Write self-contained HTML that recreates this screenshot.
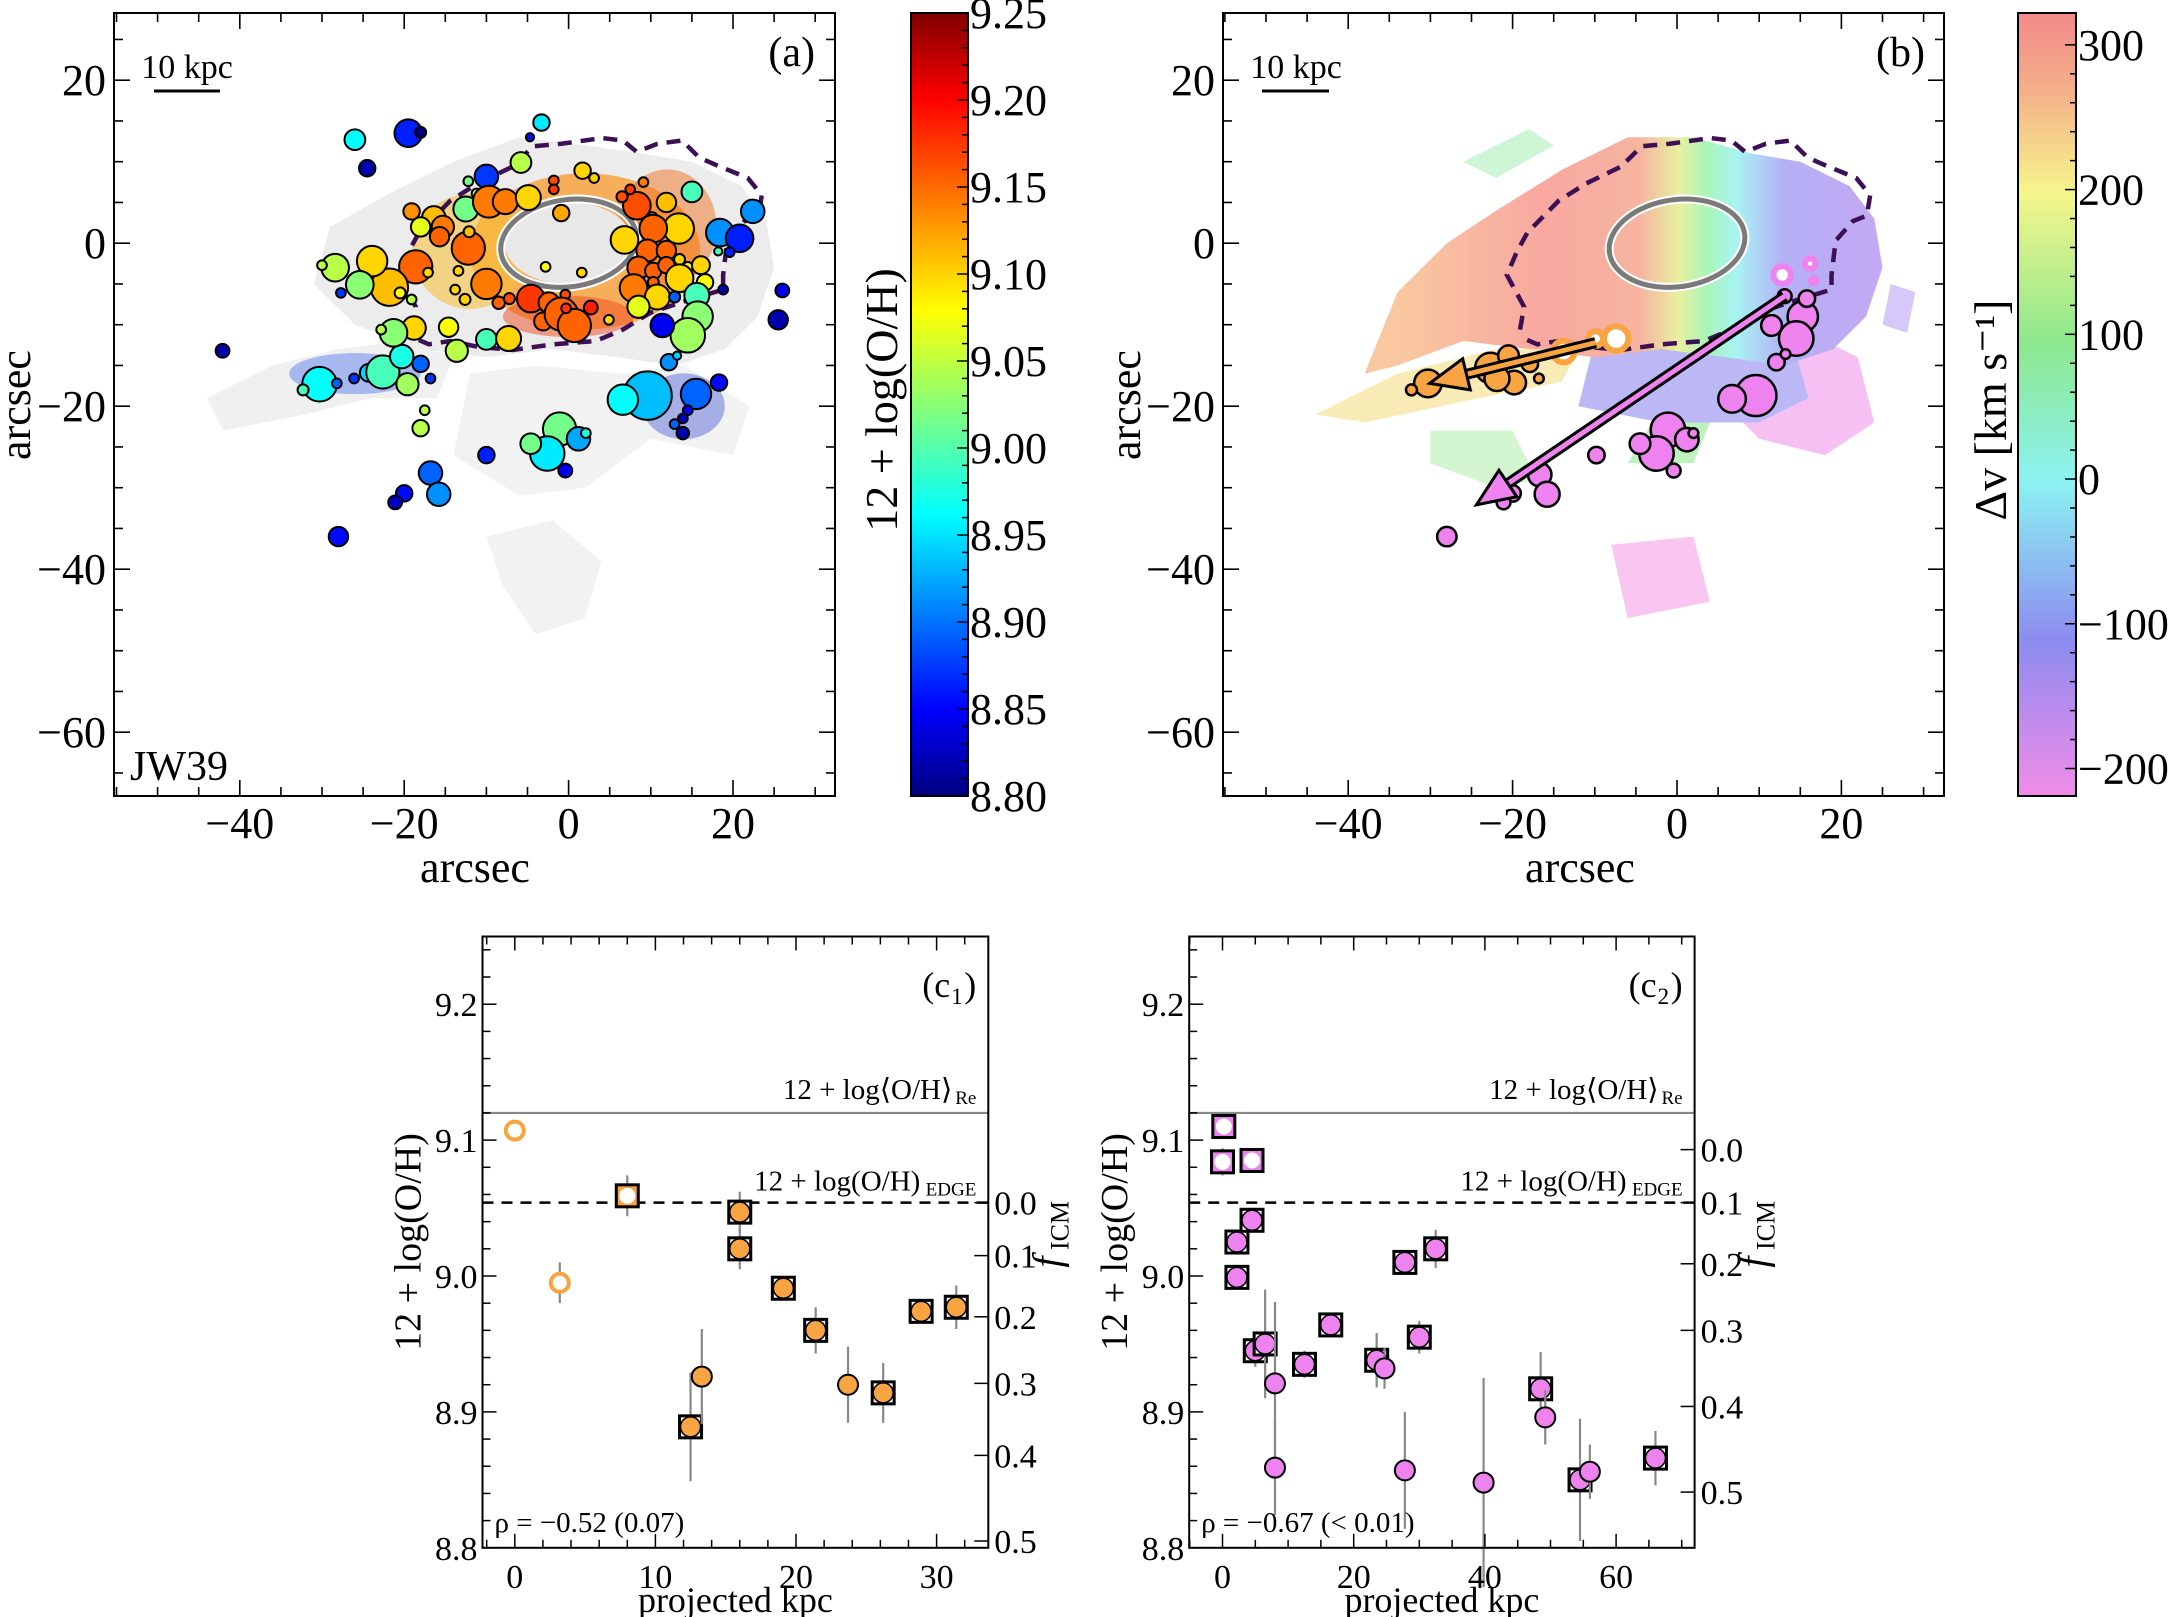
<!DOCTYPE html>
<html><head><meta charset="utf-8"><style>
html,body{margin:0;padding:0;background:#fff}
svg{display:block;font-family:"Liberation Serif","DejaVu Serif",serif}
</style></head><body>
<svg id="fig" width="2170" height="1617" viewBox="0 0 2170 1617" xmlns="http://www.w3.org/2000/svg">
<defs>
<clipPath id="clipA"><rect x="114" y="13" width="721" height="783"/></clipPath>
<clipPath id="clipB"><rect x="1223" y="13" width="721" height="783"/></clipPath>
<linearGradient id="jetGrad" x1="0" y1="1" x2="0" y2="0">
<stop offset="0" stop-color="#00007f"/><stop offset="0.11" stop-color="#0000ff"/><stop offset="0.36" stop-color="#00ffff"/>
<stop offset="0.62" stop-color="#ffff00"/><stop offset="0.89" stop-color="#ff0000"/><stop offset="1" stop-color="#7f0000"/></linearGradient>
<linearGradient id="velGrad" x1="0" y1="0" x2="0" y2="1">
<stop offset="0" stop-color="#f28a8a"/><stop offset="0.1" stop-color="#f5b08a"/><stop offset="0.23" stop-color="#f5f58c"/>
<stop offset="0.42" stop-color="#8de88d"/><stop offset="0.6" stop-color="#8cf2f2"/><stop offset="0.8" stop-color="#8c8cf0"/>
<stop offset="1" stop-color="#f08ce8"/></linearGradient>
<linearGradient id="bodyVel" gradientUnits="userSpaceOnUse" x1="1400" y1="0" x2="1880" y2="0">
<stop offset="0" stop-color="#f9c8a0"/><stop offset="0.3" stop-color="#f8a8a0"/><stop offset="0.5" stop-color="#f6b4a0"/>
<stop offset="0.58" stop-color="#e8f0a0"/><stop offset="0.64" stop-color="#a8f5b8"/><stop offset="0.7" stop-color="#a8f4f4"/>
<stop offset="0.8" stop-color="#b4b0f6"/><stop offset="1" stop-color="#c4a8f4"/></linearGradient>
</defs>
<g id="root"></g>
</svg>
<script>
// ---------- Data: panel (a) metallicity map clumps [arcsec] ----------
const clumpX=[-26.0,-19.5,-18.0,-24.5,-3.3,-4.7,-5.8,-10.0,-12.2,-11.2,-12.5,-9.7,-7.7,-4.9,-19.1,-16.4,-18.0,-15.3,-15.7,-12.2,-12.1,-13.4,1.7,3.1,-0.9,-1.8,-1.8,8.3,6.5,7.5,9.1,11.9,10.2,13.4,10.3,6.8,15.0,9.6,11.9,13.5,14.5,16.1,16.6,8.5,10.3,11.9,13.5,7.9,10.3,10.8,8.5,12.9,15.6,15.7,14.5,11.4,12.2,13.2,18.4,20.8,22.4,19.6,18.2,18.8,26.0,25.5,15.5,18.3,9.6,6.6,14.5,13.9,12.9,13.9,-1.1,-2.6,1.2,2.1,-4.6,-0.4,-10.0,-16.8,-15.8,-20.0,-21.1,-28.0,-42.1,-30.3,-32.3,-28.2,-26.1,-24.3,-22.6,-20.3,-19.6,-18.0,-16.8,-17.5,-18.0,-13.6,-14.6,-18.8,-21.3,-22.8,-10.0,-7.3,-10.0,-8.5,-7.2,-4.6,-2.4,-0.4,-3.1,-0.9,0.7,-0.3,2.7,4.9,-18.6,-21.8,-23.9,-25.4,-28.4,-30.0,-27.7,-20.5,-19.1,-17.1,-12.6,-13.8,-2.8,1.6];
const clumpY=[12.7,13.5,13.6,9.2,14.8,13.0,9.9,8.2,7.6,6.1,4.2,5.1,5.1,5.6,3.9,3.1,2.0,2.0,0.8,-0.6,1.4,-3.4,8.9,8.0,3.7,7.7,6.6,4.6,5.7,6.6,7.5,5.0,3.2,1.8,1.8,0.4,6.3,-0.9,-0.9,-2.0,-2.9,-2.7,-4.8,-3.0,-3.4,-2.7,-4.3,-5.5,-4.8,-6.6,-7.8,-6.6,-6.4,-9.0,-11.3,-10.1,-14.6,-13.8,1.3,0.6,3.9,-1.1,-1.0,-5.7,-5.8,-9.4,-18.5,-17.1,-18.7,-19.2,-20.5,-21.5,-22.2,-23.3,-22.8,-25.8,-24.0,-23.3,-24.6,-27.9,-26.0,-28.2,-30.8,-30.7,-31.8,-36.0,-13.2,-17.3,-18.0,-17.2,-16.6,-15.9,-15.8,-13.9,-17.3,-14.8,-16.6,-20.5,-22.7,-13.2,-10.3,-10.4,-11.0,-10.6,-11.8,-11.7,-5.0,-7.3,-6.8,-6.8,-7.3,-6.3,-9.6,-8.7,-10.1,-8.0,-7.9,-9.4,-2.9,-5.4,-2.2,-5.1,-3.0,-2.7,-6.1,-6.1,-6.9,-3.6,-6.9,-5.7,-2.9,-3.6];
const clumpR=[1.26,1.68,0.67,1.0,1.0,0.5,1.26,1.43,0.59,0.59,1.52,1.94,1.52,1.52,1.0,1.43,1.18,1.35,1.18,2.02,0.67,0.59,1.0,0.59,1.0,0.59,0.59,1.68,0.67,0.59,0.59,1.18,0.59,1.85,1.68,1.68,1.26,1.35,1.18,0.67,0.59,1.09,1.0,1.35,1.0,1.0,1.68,1.68,0.67,1.52,1.35,0.67,1.52,1.85,2.1,1.43,1.0,0.5,1.68,1.68,1.43,0.59,0.5,0.59,0.84,1.18,1.85,1.0,2.95,1.85,0.59,0.59,0.59,0.76,2.02,2.1,1.43,0.59,1.26,0.84,1.0,1.43,1.43,1.0,0.84,1.18,0.84,2.1,0.67,0.59,0.59,1.09,2.02,1.43,1.35,1.0,0.59,0.59,1.0,1.35,1.18,1.43,1.68,0.59,1.26,1.52,1.85,0.76,0.67,1.68,1.26,0.59,1.09,2.02,2.02,0.59,0.84,0.59,2.02,2.27,1.85,1.68,1.68,0.59,0.59,0.67,0.59,0.59,0.67,0.59,0.59,0.59];
const clumpOH=[8.97,8.87,8.80,8.82,8.96,8.86,9.05,8.88,9.02,9.05,9.02,9.14,9.14,9.10,9.13,9.11,9.07,9.14,9.15,9.15,9.11,9.10,9.10,9.10,9.12,9.16,9.17,9.16,9.16,9.17,9.14,9.11,9.10,9.10,9.15,9.10,9.00,9.15,9.15,9.10,9.08,9.10,9.08,9.15,9.15,9.15,9.10,9.14,9.15,9.10,9.07,8.90,9.00,9.03,9.04,8.85,8.92,8.95,8.92,8.87,8.92,8.87,9.00,8.82,8.85,8.82,8.90,8.86,8.94,8.97,8.85,8.83,8.90,8.82,9.02,8.96,8.93,8.98,9.02,8.85,8.87,8.90,8.92,8.86,8.83,8.86,8.82,8.97,9.00,8.90,8.88,8.95,9.00,8.98,9.04,8.90,8.88,9.05,9.05,9.05,9.08,9.10,9.03,9.05,9.00,9.10,9.14,9.15,9.16,9.17,9.15,9.16,9.15,9.15,9.15,9.17,9.18,9.10,9.15,9.11,9.10,9.03,9.05,9.05,8.88,9.08,9.05,9.10,9.10,9.10,9.08,9.10];
// dashed stellar-disk contour [arcsec]
const contourX=[-19.1,-18.6,-20.7,-19.5,-18.2,-14.4,-11.1,-6.8,-4.3,-0.9,4.1,6.6,8.3,10.8,13.8,15.9,18.4,21.8,23.5,23.1,21.4,19.3,18.8,18.8,15.1,10.0,6.6,3.3,-1.8,-6.8,-11.1,-14.4,-17.0,-18.6];
const contourY=[-10.6,-7.8,-3.9,-1.1,1.3,5.2,7.3,9.4,11.9,12.2,12.9,12.6,11.2,12.2,12.6,10.5,9.4,8.0,5.9,3.4,2.7,0.3,-3.9,-5.7,-6.8,-8.5,-10.6,-12.0,-12.4,-13.1,-12.7,-12.0,-12.4,-11.7];
// gas extent (grey) polygons [arcsec]
const bodyX=[-31,-29,-22,-14,-6,2,9,15,21,24,25,23,19,13,6,-2,-10,-18,-26];
const bodyY=[-5,2,6,10,13,12,11,10,7,3,-3,-9,-13,-15,-14,-13,-14,-13,-10];
const velBodyX=[-38,-34,-28,-22,-14,-6,2,9,15,21,24,25,23,19,13,6,-2,-10,-18,-26,-34];
const velBodyY=[-16,-6,0,4,9,13,13,11,10,7,3,-3,-9,-13,-15,-14,-13,-14,-13,-12,-15];
const tailX=[-44,-36,-28,-20,-14,-16,-24,-32,-42];
const tailY=[-19,-15,-13,-12,-14,-19,-19,-21,-23];
const lowX=[-12,-4,6,14,22,20,10,2,-6,-14];
const lowY=[-16,-15,-16,-15,-20,-26,-24,-30,-31,-26];
const bottomX=[-10,-2,4,2,-4,-8];
const bottomY=[-36,-34,-39,-46,-48,-42];
// ---------- Data: panel (b) velocity clumps [arcsec] ----------
const pinkX=[15.3,14.5,11.5,15.8,13.1,12.1,13.2,9.6,6.7,-1.1,-2.5,1.2,2.0,-4.5,-0.4,-9.8,-16.7,-15.8,-20.0,-21.1,-28.0];
const pinkY=[-9.0,-11.7,-10.1,-6.8,-6.5,-14.6,-13.6,-18.7,-19.1,-22.9,-25.8,-24.1,-23.3,-24.6,-27.9,-26.0,-28.4,-30.8,-30.7,-31.8,-36.0];
const pinkR=[1.85,2.1,1.26,1.0,0.84,1.0,0.59,2.5,1.68,2.1,2.1,1.43,0.59,1.26,0.84,1.0,1.43,1.52,1.0,0.84,1.18];
const pinkRingX=[12.8,16.2,16.6], pinkRingY=[-3.9,-2.5,-4.6], pinkRingR=[1.43,1.0,0.67];
const orangeX=[-30.3,-32.3,-22.7,-20.5,-19.8,-21.9,-17.9,-16.8];
const orangeY=[-17.2,-18.0,-15.3,-13.8,-17.1,-16.6,-14.8,-16.6];
const orangeR=[1.68,0.67,1.85,1.26,1.43,1.52,1.0,0.59];
const orangeRingX=[-13.8,-7.4,-9.9], orangeRingY=[-13.3,-11.7,-11.7], orangeRingR=[1.68,1.85,1.26];
const arrowOrange=[-9.9,-12.2,-30.1,-17.2];
const arrowPink=[13.1,-6.5,-24.4,-32.1];
// ---------- Data: panels (c1), (c2) ----------
const c1X=[0,3.2,8,16,16,19.1,21.4,12.5,26.2,28.9,31.4,13.3,23.7];
const c1Y=[9.107,8.995,9.059,9.047,9.020,8.991,8.960,8.889,8.914,8.974,8.977,8.926,8.920];
const c1Err=[0.005,0.015,0.015,0.015,0.015,0.005,0.017,0.04,0.022,0.005,0.016,0.035,0.028];
const c1Kind=["open","open","sqw","sq","sq","sq","sq","sq","sq","sq","sq","c","c"];
const c2X=[0.2,0,4.5,2.2,2.2,4.5,5,6.5,12.5,16.5,23.5,27.8,32.5,30,48.5,54.5,66,8,8,24.7,27.8,39.8,49.2,56];
const c2Y=[9.110,9.084,9.085,9.025,8.999,9.041,8.945,8.950,8.935,8.964,8.938,9.010,9.020,8.955,8.917,8.850,8.866,8.921,8.859,8.932,8.857,8.848,8.896,8.856];
const c2Err=[0,0.01,0,0.005,0.005,0.005,0.012,0.04,0.01,0.005,0.02,0.005,0.014,0.012,0.027,0.045,0.02,0.06,0.035,0.015,0.043,0.077,0.02,0.02];
const c2Kind=["sqw","sqw","sqw","sq","sq","sq","sq","sq","sq","sq","sq","sq","sq","sq","sq","sq","sq","c","c","c","c","c","c","c"];
const yTicksC=[8.8,8.9,9.0,9.1,9.2];
const fTicksC1=[9.054,9.015,8.970,8.921,8.868,8.805];
const fTicksC2=[9.093,9.054,9.009,8.960,8.904,8.841];
const fLabelsC1=["0.0","0.1","0.2","0.3","0.4","0.5"];
const fLabelsC2=["0.0","0.1","0.2","0.3","0.4","0.5"];
const ohRe=9.12, ohEdge=9.054;
const cbTicksA=[8.80,8.85,8.90,8.95,9.00,9.05,9.10,9.15,9.20,9.25];
const cbTicksB=[300,200,100,0,-100,-200];

const NS="http://www.w3.org/2000/svg";
const root=document.getElementById('root');
function mk(tag,attrs,parent){const e=document.createElementNS(NS,tag);for(const k in attrs)e.setAttribute(k,attrs[k]);(parent||root).appendChild(e);return e;}
function txt(s,attrs,parent){const e=mk('text',attrs,parent);e.textContent=s;return e;}

const AX=v=>568.6+v*8.22, AY=v=>243.2-v*8.15, BX=v=>1677+v*8.22, SC=v=>v*8.22;
const C1X=v=>514.8+v*14.06, C2X=v=>1222.5+v*6.56, CY=v=>1547.8-(v-8.8)*1359;

function jet(v){const t=Math.max(0,Math.min(1,(v-8.8)/0.45));const c=x=>Math.round(255*Math.max(0,Math.min(1,1.5-Math.abs(4*t-x))));return `rgb(${c(3)},${c(2)},${c(1)})`;}
function poly(xs,ys,fx,fy){return xs.map((x,i)=>fx(x)+','+fy(ys[i])).join(' ');}
function minus(v){return v<0?'\u2212'+(-v):String(v);}

function frameTicks(g,x0,y0,x1,y1,xmaj,xmin,fx,ymaj,ymin,fy,xlo,xhi,ylo,yhi,right){
  mk('rect',{x:x0,y:y0,width:x1-x0,height:y1-y0,fill:'none',stroke:'#000','stroke-width':2},g);
  for(let v=Math.ceil(xlo/xmin)*xmin;v<=xhi;v+=xmin){const X=fx(v);const L=Math.abs(v/xmaj-Math.round(v/xmaj))<1e-6?16:9;
    mk('line',{x1:X,y1:y1,x2:X,y2:y1-L,stroke:'#000','stroke-width':1.6},g);mk('line',{x1:X,y1:y0,x2:X,y2:y0+L,stroke:'#000','stroke-width':1.6},g);}
  for(let v=Math.ceil(ylo/ymin)*ymin;v<=yhi+1e-9;v+=ymin){const Y=fy(v);const L=Math.abs(v/ymaj-Math.round(v/ymaj))<1e-6?16:9;
    mk('line',{x1:x0,y1:Y,x2:x0+L,y2:Y,stroke:'#000','stroke-width':1.6},g);if(right)mk('line',{x1:x1,y1:Y,x2:x1-L,y2:Y,stroke:'#000','stroke-width':1.6},g);}
}

// ================= Panel (a) =================
const ga=mk('g',{});


const ma=mk('g',{'clip-path':'url(#clipA)'},ga);
const gb1=mk('polygon',{points:poly(bodyX,bodyY,AX,AY),fill:'#ececec'},ma);


mk('polygon',{points:poly(tailX,tailY,AX,AY),fill:'#f0f0f0'},ma);
mk('polygon',{points:poly(lowX,lowY,AX,AY),fill:'#f2f2f2'},ma);
mk('polygon',{points:poly(bottomX,bottomY,AX,AY),fill:'#f2f2f2'},ma);
mk('ellipse',{cx:AX(2),cy:AY(-1),rx:SC(14),ry:SC(9.5),fill:'#fa9a2a',opacity:0.75},ma);
mk('ellipse',{cx:AX(-12),cy:AY(-1),rx:SC(7),ry:SC(7),fill:'#f8c030',opacity:0.55},ma);
mk('ellipse',{cx:AX(12),cy:AY(2),rx:SC(6),ry:SC(7),fill:'#f07020',opacity:0.5},ma);
mk('ellipse',{cx:AX(0),cy:AY(-9),rx:SC(8),ry:SC(2.5),fill:'#ef4a20',opacity:0.5},ma);
mk('ellipse',{cx:AX(-26),cy:AY(-16),rx:SC(8),ry:SC(2.5),fill:'#2050f0',opacity:0.35},ma);
mk('ellipse',{cx:AX(14),cy:AY(-20),rx:SC(5),ry:SC(4),fill:'#1a30d0',opacity:0.35},ma);
mk('ellipse',{cx:AX(0),cy:AY(0),rx:SC(7.8),ry:SC(5),fill:'#e8e8e8'},ma);
const ca=mk('polyline',{points:poly(contourX,contourY,AX,AY),fill:'none',stroke:'#3d0f55','stroke-width':4.5,'stroke-dasharray':'14 9'},ma);


mk('ellipse',{cx:AX(0),cy:AY(0),rx:SC(8.3),ry:SC(5.3),fill:'none',stroke:'#fff','stroke-width':9,transform:`rotate(-8 ${AX(0)} ${AY(0)})`},ma);
const ea2=mk('ellipse',{cx:AX(0),cy:AY(0),rx:SC(8.3),ry:SC(5.3),fill:'none',stroke:'#7a7a7a','stroke-width':5,transform:`rotate(-8 ${AX(0)} ${AY(0)})`},ma);


clumpX.forEach((x,i)=>{
  const c=mk('circle',{cx:AX(x),cy:AY(clumpY[i]),r:SC(clumpR[i]),fill:jet(clumpOH[i]),stroke:'#000','stroke-width':2},ma);
  
  
});
frameTicks(ga,114,13,835,796,20,5,AX,20,5,AY,-55,32,-67,28,true);
[-40,-20,0,20].forEach(v=>{const t=txt(minus(v),{x:AX(v),y:838,'font-size':44,'text-anchor':'middle'},ga);
  
  });
[20,0,-20,-40,-60].forEach(v=>{const t=txt(minus(v),{x:106,y:AY(v)+15,'font-size':44,'text-anchor':'end'},ga);
  
  });
const xla=txt('arcsec',{x:475,y:882,'font-size':44,'text-anchor':'middle'},ga);


const yla=txt('arcsec',{x:0,y:0,'font-size':44,'text-anchor':'middle',transform:'translate(30,405) rotate(-90)'},ga);


const pla=txt('(a)',{x:815,y:66,'font-size':42,'text-anchor':'end'},ga);


const sba=mk('line',{x1:154,y1:91,x2:220,y2:91,stroke:'#000','stroke-width':3},ga);


txt('10 kpc',{x:187,y:78,'font-size':34,'text-anchor':'middle'},ga);
const jw=txt('JW39',{x:130,y:780,'font-size':42},ga);


const cbA=mk('rect',{x:911,y:13,width:57,height:783,fill:'url(#jetGrad)',stroke:'#000','stroke-width':2},ga);


const cbAY=v=>796-(v-8.8)/0.45*783;
for(let v=8.80;v<=9.2501;v+=0.01){const maj=Math.abs(v*20-Math.round(v*20))<1e-4;mk('line',{x1:968,y1:cbAY(v),x2:968-(maj?11:6),y2:cbAY(v),stroke:'#000','stroke-width':1.5},ga);}
cbTicksA.forEach(v=>{const t=txt(v.toFixed(2),{x:970,y:cbAY(v)+15,'font-size':44},ga);
  
  });
const cla=txt('12 + log(O/H)',{x:0,y:0,'font-size':46,'text-anchor':'middle',transform:'translate(897,400) rotate(-90)'},ga);



// ================= Panel (b) =================
const gbp=mk('g',{});


const mb=mk('g',{'clip-path':'url(#clipB)'},gbp);
mk('polygon',{points:poly([8,14,22,24,18,10,4],[-11,-10,-14,-22,-26,-24,-18],BX,AY),fill:'#f4b6f0',opacity:0.85},mb);
mk('polygon',{points:poly([-10,4,14,16,10,-2,-12],[-12,-12,-12,-19,-22,-22,-20],BX,AY),fill:'#bcb8f5'},mb);
mk('polygon',{points:poly(velBodyX,velBodyY,BX,AY),fill:'url(#bodyVel)'},mb);
mk('polygon',{points:poly([-44,-34,-22,-12,-14,-24,-38],[-21,-16,-13,-13,-17,-19,-22],BX,AY),fill:'#f8e8a8',opacity:0.85},mb);
mk('polygon',{points:poly([-30,-20,-17,-22,-30],[-23,-23,-29,-30,-27],BX,AY),fill:'#c0f2bc',opacity:0.7},mb);
mk('polygon',{points:poly([-3,4,2,-6],[-22,-22,-27,-27],BX,AY),fill:'#aef0ae',opacity:0.8},mb);
mk('polygon',{points:poly([-8,2,4,-6],[-37,-36,-44,-46],BX,AY),fill:'#f8bcf0',opacity:0.85},mb);
mk('polygon',{points:poly([-26,-18,-15,-22],[10,14,12,8],BX,AY),fill:'#c0f2cc',opacity:0.8},mb);
mk('polygon',{points:poly([26,29,28,25],[-5,-6,-11,-10],BX,AY),fill:'#ccbaf6',opacity:0.8},mb);
const cb=mk('polyline',{points:poly(contourX,contourY,BX,AY),fill:'none',stroke:'#3d0f55','stroke-width':4.5,'stroke-dasharray':'14 9'},mb);


mk('ellipse',{cx:BX(0),cy:AY(0),rx:SC(8.3),ry:SC(5.3),fill:'none',stroke:'#fff','stroke-width':9,transform:`rotate(-8 ${BX(0)} ${AY(0)})`},mb);
const eb=mk('ellipse',{cx:BX(0),cy:AY(0),rx:SC(8.3),ry:SC(5.3),fill:'none',stroke:'#7a7a7a','stroke-width':5,transform:`rotate(-8 ${BX(0)} ${AY(0)})`},mb);


function arrow(a,col,name){
  const x1=BX(a[0]),y1=AY(a[1]),x2=BX(a[2]),y2=AY(a[3]);
  const dx=x2-x1,dy=y2-y1,L=Math.hypot(dx,dy),ux=dx/L,uy=dy/L,px=-uy,py=ux;
  const hx=x2-ux*38,hy=y2-uy*38;
  const g=mk('g',{},mb);
  
  
  mk('line',{x1:x1,y1:y1,x2:hx,y2:hy,stroke:'#000','stroke-width':11},g);
  mk('line',{x1:x1,y1:y1,x2:hx,y2:hy,stroke:col,'stroke-width':5},g);
  mk('polygon',{points:`${x2},${y2} ${hx+px*16},${hy+py*16} ${hx-px*16},${hy-py*16}`,fill:col,stroke:'#000','stroke-width':3},g);
}
orangeRingX.forEach((x,i)=>{const c=mk('circle',{cx:BX(x),cy:AY(orangeRingY[i]),r:SC(orangeRingR[i])-3,fill:'#fff',stroke:'#f9a443','stroke-width':6},mb);
  
  });
pinkRingX.forEach((x,i)=>{const c=mk('circle',{cx:BX(x),cy:AY(pinkRingY[i]),r:SC(pinkRingR[i])-3,fill:'#fff',stroke:'#ee82ee','stroke-width':6},mb);
  
  });
orangeX.forEach((x,i)=>{const c=mk('circle',{cx:BX(x),cy:AY(orangeY[i]),r:SC(orangeR[i]),fill:'#f9a443',stroke:'#000','stroke-width':2.5},mb);
  
  });
pinkX.forEach((x,i)=>{const c=mk('circle',{cx:BX(x),cy:AY(pinkY[i]),r:SC(pinkR[i]),fill:'#ee82ee',stroke:'#000','stroke-width':2.5},mb);
  
  });
arrow(arrowOrange,'#f9a443','orange-tail-arrow');
arrow(arrowPink,'#ee82ee','pink-tail-arrow');
frameTicks(gbp,1223,13,1944,796,20,5,BX,20,5,AY,-55,32,-67,28,true);
[-40,-20,0,20].forEach(v=>{const t=txt(minus(v),{x:BX(v),y:838,'font-size':44,'text-anchor':'middle'},gbp);
  
  });
[20,0,-20,-40,-60].forEach(v=>{const t=txt(minus(v),{x:1215,y:AY(v)+15,'font-size':44,'text-anchor':'end'},gbp);
  
  });
const xlb=txt('arcsec',{x:1580,y:882,'font-size':44,'text-anchor':'middle'},gbp);


const ylb=txt('arcsec',{x:0,y:0,'font-size':44,'text-anchor':'middle',transform:'translate(1140,405) rotate(-90)'},gbp);


const plb=txt('(b)',{x:1925,y:66,'font-size':42,'text-anchor':'end'},gbp);


const sbb=mk('line',{x1:1262,y1:91,x2:1329,y2:91,stroke:'#000','stroke-width':3},gbp);


txt('10 kpc',{x:1296,y:78,'font-size':34,'text-anchor':'middle'},gbp);
const cbB=mk('rect',{x:2018,y:13,width:58,height:783,fill:'url(#velGrad)',stroke:'#000','stroke-width':2},gbp);


const cbBY=v=>13+(322-v)/541*783;
for(let v=-200;v<=300;v+=20){const maj=v%100===0;mk('line',{x1:2076,y1:cbBY(v),x2:2076-(maj?11:6),y2:cbBY(v),stroke:'#000','stroke-width':1.5},gbp);}
cbTicksB.forEach(v=>{const t=txt(minus(v),{x:2078,y:cbBY(v)+15,'font-size':44},gbp);
  
  });
const clb=txt('\u0394v [km s\u207B\u00B9]',{x:0,y:0,'font-size':46,'text-anchor':'middle',transform:'translate(2006,410) rotate(-90)'},gbp);



// ================= Panels (c1), (c2) =================
function cPanel(name,x0,x1,fx,xlo,xhi,xmaj,xmin,xs,ys,es,ks,col,fT,fL,label,rho,xticks){
  const g=mk('g',{});
  
  
  const y0=936.5,y1=1547.8;
  const re=mk('line',{x1:x0,y1:CY(ohRe),x2:x1,y2:CY(ohRe),stroke:'#888','stroke-width':2.2},g);
  
  
  const ed=mk('line',{x1:x0,y1:CY(ohEdge),x2:x1,y2:CY(ohEdge),stroke:'#000','stroke-width':2.5,'stroke-dasharray':'11 8'},g);
  
  
  txt('12 + log\u27E8O/H\u27E9',{x:x1-36,y:CY(ohRe)-14,'font-size':29,'text-anchor':'end'},g);
  txt('Re',{x:x1-12,y:CY(ohRe)-9,'font-size':19,'text-anchor':'end'},g);
  txt('12 + log(O/H)',{x:x1-68,y:CY(ohEdge)-12,'font-size':29,'text-anchor':'end'},g);
  txt('EDGE',{x:x1-12,y:CY(ohEdge)-7,'font-size':19,'text-anchor':'end'},g);
  xs.forEach((x,i)=>{
    const X=fx(x),Y=CY(ys[i]);
    if(es[i]>0){const eb=mk('line',{x1:X,y1:CY(ys[i]-es[i]),x2:X,y2:CY(ys[i]+es[i]),stroke:'#888','stroke-width':2.2},g);
      
      }
    let m;
    if(ks[i]==='open'){m=mk('circle',{cx:X,cy:Y,r:9,fill:'#fff',stroke:col,'stroke-width':4},g);}
    else if(ks[i]==='sqw'){m=mk('g',{},g);mk('rect',{x:X-11,y:Y-11,width:22,height:22,fill:col,stroke:'#000','stroke-width':3},m);mk('circle',{cx:X,cy:Y,r:8,fill:'#fff'},m);}
    else if(ks[i]==='sq'){m=mk('g',{},g);mk('rect',{x:X-11,y:Y-11,width:22,height:22,fill:'#fff',stroke:'#000','stroke-width':3},m);mk('circle',{cx:X,cy:Y,r:10,fill:col,stroke:'#000','stroke-width':1.5},m);}
    else {m=mk('circle',{cx:X,cy:Y,r:10,fill:col,stroke:'#000','stroke-width':2},g);}
    
    
  });
  mk('rect',{x:x0,y:y0,width:x1-x0,height:y1-y0,fill:'none',stroke:'#000','stroke-width':2},g);
  for(let v=Math.ceil(xlo/xmin)*xmin;v<=xhi;v+=xmin){const X=fx(v);const L=v%xmaj===0?14:8;
    mk('line',{x1:X,y1:y1,x2:X,y2:y1-L,stroke:'#000','stroke-width':1.5},g);mk('line',{x1:X,y1:y0,x2:X,y2:y0+L,stroke:'#000','stroke-width':1.5},g);}
  for(let k=0;k<=22;k++){const v=8.8+k*0.02;const Y=CY(v);const L=(k%5===0)?14:8;mk('line',{x1:x0,y1:Y,x2:x0+L,y2:Y,stroke:'#000','stroke-width':1.5},g);}
  xticks.forEach(v=>{const t=txt(String(v),{x:fx(v),y:1588,'font-size':34,'text-anchor':'middle'},g);
    
    });
  yTicksC.forEach(v=>{const t=txt(v.toFixed(1),{x:x0-5,y:CY(v)+12,'font-size':34,'text-anchor':'end'},g);
    
    });
  fT.forEach((v,i)=>{mk('line',{x1:x1,y1:CY(v),x2:x1-14,y2:CY(v),stroke:'#000','stroke-width':1.5},g);
    const t=txt(fL[i],{x:x1+6,y:CY(v)+12,'font-size':34},g);
    
    });
  const fl=txt('f',{x:0,y:0,'font-size':40,'font-style':'italic','text-anchor':'middle',transform:`translate(${x1+72},1262) rotate(-90)`},g);
  
  
  txt('ICM',{x:0,y:0,'font-size':26,transform:`translate(${x1+80},1250) rotate(-90)`},g);
  const yl=txt('12 + log(O/H)',{x:0,y:0,'font-size':38,'text-anchor':'middle',transform:`translate(${x0-62},1242) rotate(-90)`},g);
  
  
  const xl=txt('projected kpc',{x:(x0+x1)/2,y:1612,'font-size':36,'text-anchor':'middle'},g);
  
  
  const pl=txt('(c',{x:x1-66,y:997,'font-size':36},g);
  
  
  txt(label,{x:x1-37,y:1004,'font-size':23},g);
  txt(')',{x:x1-24,y:997,'font-size':36},g);
  const rt=txt(rho,{x:x0+12,y:1532,'font-size':29},g);
  
  
}
cPanel('panel-c1-metallicity-profile',482.5,988.3,C1X,-2,33,10,2,c1X,c1Y,c1Err,c1Kind,'#f9a443',fTicksC1,fLabelsC1,'1','\u03C1 = \u22120.52 (0.07)',[0,10,20,30]);
cPanel('panel-c2-metallicity-profile',1189.2,1694.6,C2X,-5,71,20,5,c2X,c2Y,c2Err,c2Kind,'#ee82ee',fTicksC2,fLabelsC2,'2','\u03C1 = \u22120.67 (< 0.01)',[0,20,40,60]);
</script>
</body></html>
